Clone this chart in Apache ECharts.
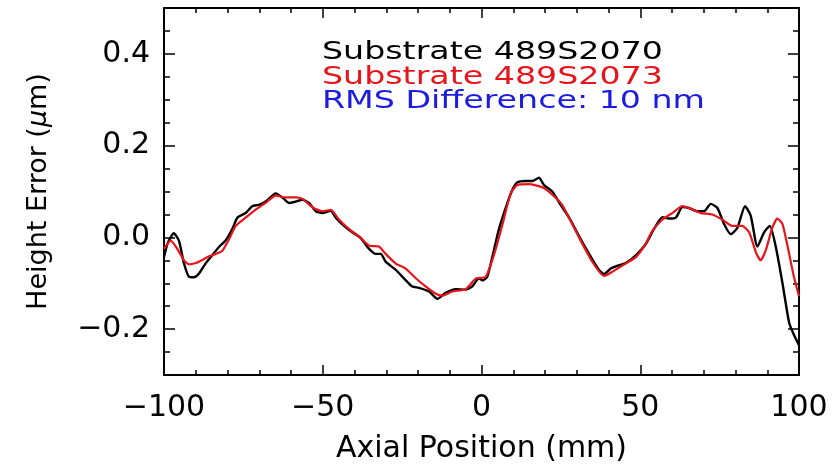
<!DOCTYPE html>
<html><head><meta charset="utf-8">
<script src="https://cdn.jsdelivr.net/npm/echarts@6/dist/echarts.min.js"></script>
<style>html,body{margin:0;padding:0;background:#fff}#c{width:839px;height:469px}</style>
</head><body><div id="c"></div><script>
const xTickLabels = [-100, -50, 0, 50, 100];
const yTickLabels = [-0.2, 0, 0.2, 0.4];
const legendLines = ['Substrate 489S2070', 'Substrate 489S2073', 'RMS Difference: 10 nm'];
const legendColors = ['#000000', '#e8141c', '#1c1ce0'];

// Substrate 489S2070: [axial position mm, height error um]
const substrate2070 = [
  [-100,-0.043],[-98.9,-0.014],[-96.9,0.009],[-95.3,-0.007],[-93.7,-0.057],[-92.1,-0.086],[-90.6,-0.087],
  [-89.0,-0.079],[-86.9,-0.057],[-84.8,-0.039],[-82.7,-0.021],[-80.6,-0.007],[-78.5,0.018],[-76.9,0.043],
  [-74.3,0.053],[-72.2,0.068],[-70.1,0.071],[-68.0,0.078],[-64.8,0.096],[-62.7,0.087],[-60.6,0.075],
  [-58.5,0.078],[-56.4,0.082],[-54.3,0.075],[-52.2,0.057],[-50.1,0.053],[-47.5,0.058],[-45.9,0.043],
  [-43.3,0.025],[-40.7,0.011],[-38.1,-0.001],[-35.4,-0.025],[-33.3,-0.036],[-31.7,-0.036],[-30.2,-0.053],
  [-27.0,-0.071],[-23.9,-0.093],[-21.8,-0.107],[-19.7,-0.110],[-16.5,-0.118],[-13.9,-0.134],[-11.3,-0.121],
  [-8.1,-0.113],[-5.0,-0.114],[-2.9,-0.107],[-0.8,-0.089],[0.3,-0.094],[1.8,-0.086],[3.4,-0.043],
  [5.5,0.018],[7.6,0.064],[9.7,0.103],[11.3,0.120],[13.9,0.123],[16.0,0.123],[18.1,0.130],[19.7,0.114],
  [22.3,0.100],[24.9,0.071],[27.6,0.043],[30.7,0.003],[33.9,-0.036],[37.0,-0.071],[38.6,-0.080],
  [40.7,-0.068],[42.3,-0.063],[45.4,-0.056],[48.6,-0.039],[51.7,-0.015],[54.3,0.018],[57.0,0.044],
  [59.1,0.041],[61.2,0.043],[63.3,0.066],[65.4,0.064],[68.0,0.057],[70.1,0.057],[72.2,0.073],[74.3,0.064],
  [76.4,0.029],[78.5,0.007],[80.6,0.021],[83.0,0.068],[84.8,0.047],[86.9,-0.020],[89.0,0.011],[90.8,0.025],
  [92.7,-0.021],[94.8,-0.100],[96.9,-0.186],[98.5,-0.214],[100,-0.235]
];

// Substrate 489S2073
const substrate2073 = [
  [-100,-0.025],[-97.9,-0.007],[-95.8,-0.025],[-93.7,-0.050],[-92.1,-0.059],[-90.0,-0.056],[-87.9,-0.049],
  [-85.8,-0.041],[-83.7,-0.036],[-81.6,-0.029],[-79.5,-0.004],[-77.4,0.025],[-74.3,0.043],[-71.2,0.060],
  [-68.0,0.075],[-64.8,0.091],[-61.7,0.087],[-58.5,0.087],[-56.4,0.084],[-53.3,0.066],[-50.1,0.057],
  [-47.5,0.060],[-44.9,0.039],[-41.7,0.018],[-38.6,0.002],[-35.4,-0.018],[-32.3,-0.020],[-30.2,-0.036],
  [-27.0,-0.057],[-23.9,-0.068],[-20.7,-0.089],[-17.6,-0.107],[-14.4,-0.123],[-12.3,-0.127],[-9.2,-0.118],
  [-5.0,-0.113],[-1.8,-0.090],[1.3,-0.086],[3.9,-0.039],[6.6,0.028],[9.2,0.096],[11.3,0.114],[15.0,0.116],
  [19.1,0.109],[22.3,0.093],[25.4,0.071],[30.7,0.000],[34.9,-0.053],[38.6,-0.084],[41.2,-0.075],
  [45.4,-0.057],[48.6,-0.043],[51.7,-0.014],[53.8,0.014],[57.0,0.039],[60.1,0.053],[63.3,0.068],
  [66.4,0.061],[69.0,0.053],[72.7,0.050],[75.8,0.039],[79.0,0.025],[82.1,0.025],[84.3,0.011],[86.4,-0.032],
  [87.9,-0.050],[89.5,-0.029],[91.6,0.021],[93.2,0.041],[94.8,0.029],[96.9,-0.036],[98.4,-0.086],[100,-0.128]
];

const FONT = 'DejaVu Sans';
const fmtMinus = v => (v < 0 ? '\u2212' : '') + Math.abs(v);
const fmtY = v => (v < 0 ? '\u2212' : '') + Math.abs(v).toFixed(1);

const axisLine = { show: true, onZero: false, lineStyle: { color: '#000', width: 2 } };
const tickStyle = { color: '#000', width: 1.5 };
const chart = echarts.init(document.getElementById('c'), null, { renderer: 'canvas' });
chart.setOption({
  backgroundColor: '#fff',
  animation: false,
  grid: { left: 164, right: 40, top: 8, bottom: 88, containLabel: false },
  xAxis: [
    {
      type: 'value', position: 'bottom', min: -100, max: 100, interval: 50,
      axisLine, splitLine: { show: false },
      axisTick: { inside: true, length: 10, lineStyle: tickStyle },
      minorTick: { show: true, splitNumber: 5, length: 5, lineStyle: tickStyle },
      axisLabel: { customValues: xTickLabels, formatter: fmtMinus, fontSize: 30, fontFamily: FONT, color: '#000', margin: 18 },
      name: 'Axial Position (mm)', nameLocation: 'middle', nameGap: 59,
      nameTextStyle: { fontSize: 30, fontFamily: FONT, color: '#000' }
    },
    {
      type: 'value', position: 'top', min: -100, max: 100, interval: 50,
      axisLine, splitLine: { show: false },
      axisTick: { inside: true, length: 10, lineStyle: tickStyle },
      minorTick: { show: true, splitNumber: 5, length: 5, lineStyle: tickStyle },
      axisLabel: { show: false }
    }
  ],
  yAxis: [
    {
      type: 'value', position: 'left', min: -0.3, max: 0.5, interval: 0.05,
      axisLine, splitLine: { show: false },
      axisTick: { inside: true, length: 6, lineStyle: tickStyle },
      axisLabel: { customValues: yTickLabels, formatter: fmtY, fontSize: 30, fontFamily: FONT, color: '#000', margin: 14 },
      name: 'Height Error ({i|\u03bc}m)', nameLocation: 'middle', nameGap: 112,
      nameTextStyle: { fontSize: 27, fontFamily: FONT, color: '#000', rich: { i: { fontStyle: 'italic', fontSize: 27, fontFamily: FONT, color: '#000' } } }
    },
    {
      type: 'value', position: 'left', min: -0.3, max: 0.5,
      axisLine: { show: false, onZero: false }, splitLine: { show: false },
      axisTick: { show: true, inside: true, length: 11, customValues: yTickLabels, lineStyle: tickStyle },
      axisLabel: { show: false }
    },
    {
      type: 'value', position: 'right', min: -0.3, max: 0.5, interval: 0.05,
      axisLine, splitLine: { show: false },
      axisTick: { inside: true, length: 6, lineStyle: tickStyle },
      axisLabel: { show: false }
    },
    {
      type: 'value', position: 'right', min: -0.3, max: 0.5,
      axisLine: { show: false, onZero: false }, splitLine: { show: false },
      axisTick: { show: true, inside: true, length: 11, customValues: yTickLabels, lineStyle: tickStyle },
      axisLabel: { show: false }
    }
  ],
  graphic: legendLines.map((t, i) => ({
    type: 'text', x: 322, y: 40 + i * 24.5, scaleX: 1.33,
    style: { text: t, fill: legendColors[i], font: '25px "' + FONT + '"', verticalAlign: 'top', align: 'left' }
  })),
  series: [
    { name: legendLines[0], type: 'line', data: substrate2070, showSymbol: false, smooth: 0.2,
      lineStyle: { color: '#000', width: 2.4 }, xAxisIndex: 0, yAxisIndex: 0 },
    { name: legendLines[1], type: 'line', data: substrate2073, showSymbol: false, smooth: 0.2,
      lineStyle: { color: '#e8141c', width: 2.2 }, xAxisIndex: 0, yAxisIndex: 0 }
  ]
});
</script></body></html>
